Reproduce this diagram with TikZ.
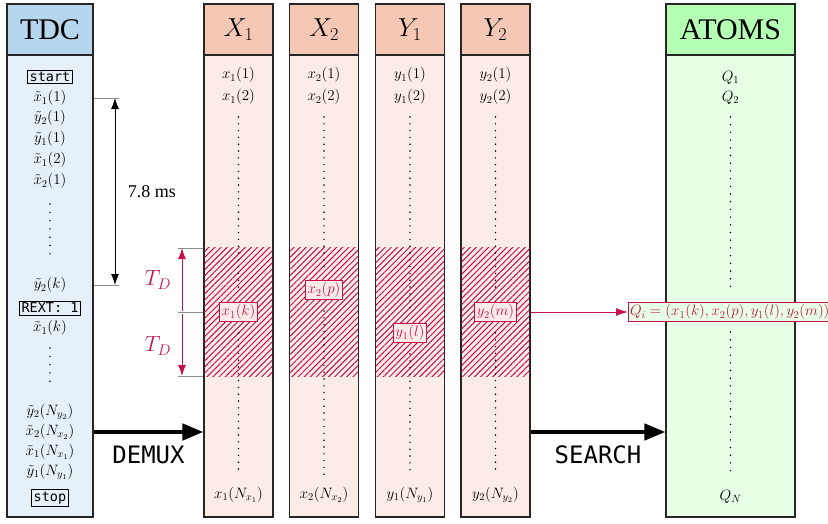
\RequirePackage{fix-cm}
\documentclass[tikz,border=0pt]{standalone}
\usepackage{fontspec}
\setmainfont{Liberation Serif}
\setmonofont{DejaVu Sans Mono}
\usetikzlibrary{arrows.meta,patterns.meta}

\begin{document}
\begin{tikzpicture}[x=1pt, y=-1pt,
    colhead/.style={draw=black!85, line width=1.1pt, inner sep=0pt, minimum height=51pt, font=\fontsize{30}{30}\selectfont},
    colbody/.style={draw=black!85, line width=1.1pt, inner sep=0pt, minimum height=462pt},
    entry/.style={inner sep=1pt, font=\fontsize{15}{17}\selectfont},
    tagbox/.style={draw, line width=0.8pt, inner sep=2pt, font=\fontsize{13.5}{15}\ttfamily},
    pickbox/.style={draw=hatchRed, line width=1pt, fill=xBody, text=hatchRed, inner sep=2pt, font=\fontsize{15}{17}\selectfont},
    dotline/.style={line width=1.6pt, line cap=round, dash pattern=on 0pt off #1},
    dotline/.default=6.8pt,
    guideline/.style={draw=black!45, line width=0.9pt},
    bigarrow/.style={line width=4.4pt, -{Triangle[length=21pt,width=16pt]}},
    tdarrow/.style={draw=hatchRed, line width=1pt, -{Latex[length=11pt,width=8pt]}},
    flowlabel/.style={font=\fontsize{24}{24}\ttfamily}
]
    \definecolor{tdcHead}{HTML}{B5D6EC}
    \definecolor{tdcBody}{HTML}{E5F0F8}
    \definecolor{xHead}{HTML}{F5C7B5}
    \definecolor{xBody}{HTML}{FBECE7}
    \definecolor{atomHead}{HTML}{B5FFB5}
    \definecolor{atomBody}{HTML}{E6FFE6}
    \definecolor{hatchRed}{HTML}{C8104B}

    \useasboundingbox (0,0) rectangle (828,523);

    % TDC column
    \node[colhead, fill=tdcHead, minimum width=86pt] (tdc-head) at (50,29.5) {TDC};
    \node[colbody, fill=tdcBody, minimum width=86pt] (tdc) at (50,286) {};

    \node[tagbox] (start) at (50,77) {start};
    \foreach \y/\txt [count=\i] in {98/\tilde{x}_1(1), 118/\tilde{y}_2(1), 139/\tilde{y}_1(1), 160/\tilde{x}_1(2), 181/\tilde{x}_2(1), 285/\tilde{y}_2(k), 328/\tilde{x}_1(k), 412/\tilde{y}_2(N_{y_2}), 432/\tilde{x}_2(N_{x_2}), 452/\tilde{x}_1(N_{x_1}), 472/\tilde{y}_1(N_{y_1})}
        \node[entry] (tdc-\i) at (50,\y) {$\txt$};
    \node[tagbox] (rext) at (50,308) {REXT: 1};
    \node[tagbox] (stop) at (50,498) {stop};
    \draw[dotline=8.3pt] (50,204) -- (50,262);
    \draw[dotline=8.3pt] (50,348) -- (50,382);

    % Time span of the TDC words
    \coordinate (msTop) at (115,98);
    \coordinate (msBot) at (115,285);
    \draw[guideline] (tdc.east |- msTop) -- ++(25,0);
    \draw[guideline] (tdc.east |- msBot) -- ++(25,0);
    \draw[line width=0.9pt, {Latex[length=11pt,width=8pt]}-{Latex[length=11pt,width=8pt]}] (msTop) -- (msBot)
        node[midway, right=9pt, font=\fontsize{18}{18}\selectfont] {7.8 ms};

    % Channel columns
    \foreach \n/\cx/\ttl/\var/\nn/\pk/\py in {xa/238.5/X_1/x_1/N_{x_1}/k/312, xb/324/X_2/x_2/N_{x_2}/p/290, yc/410/Y_1/y_1/N_{y_1}/l/333, yd/495.5/Y_2/y_2/N_{y_2}/m/312} {
        \node[colhead, fill=xHead, minimum width=69pt, font=\fontsize{26}{26}\selectfont] (\n-head) at (\cx,29.5) {$\ttl$};
        \node[colbody, fill=xBody, minimum width=69pt] (\n) at (\cx,286) {};
        \fill[pattern={Lines[angle=45,distance=4.3pt,line width=1pt]}, pattern color=hatchRed] ({\cx-33.9},247) rectangle ({\cx+33.9},376);
        \node[entry] (\n-1) at (\cx,75) {$\var(1)$};
        \node[entry] (\n-2) at (\cx,97) {$\var(2)$};
        \node[entry] (\n-last) at (\cx,495) {$\var(\nn)$};
        \draw[dotline] (\cx,117) -- (\cx,{\py-21});
        \draw[dotline] (\cx,{\py+21}) -- (\cx,475);
        \node[pickbox] (\n-pick) at (\cx,\py) {$\var(\pk)$};
    }

    % Coincidence window
    \coordinate (tdA) at (182,248);
    \coordinate (tdB) at (182,312);
    \coordinate (tdC) at (182,376);
    \foreach \c in {tdA,tdB,tdC}
        \draw[guideline] ([xshift=-4pt]\c) -- (xa.west |- \c);
    \draw[tdarrow] ([yshift=1.5pt]tdB) -- (tdA);
    \draw[tdarrow] ([yshift=-1.5pt]tdB) -- (tdC);
    \node[text=hatchRed, font=\fontsize{22}{22}\selectfont] (td-up) at (158,280) {$T_D$};
    \node[text=hatchRed, font=\fontsize{22}{22}\selectfont] (td-down) at (158,346) {$T_D$};

    % ATOMS column
    \node[colhead, fill=atomHead, minimum width=129pt] (atoms-head) at (730.5,29.5) {ATOMS};
    \node[colbody, fill=atomBody, minimum width=129pt] (atoms) at (730.5,286) {};
    \node[entry] (q-1) at (730.5,78) {$Q_1$};
    \node[entry] (q-2) at (730.5,98) {$Q_2$};
    \node[entry] (q-n) at (730.5,497) {$Q_N$};
    \draw[dotline=7.7pt] (730.5,117) -- (730.5,290);
    \draw[dotline=7.7pt] (730.5,332) -- (730.5,473);
    \node[pickbox, fill=atomBody, anchor=west, inner xsep=1.5pt] (qi) at (628,312) {$Q_i = (x_1(k), x_2(p), y_1(l), y_2(m))$};
    \draw[tdarrow, -{Latex[length=12pt,width=8pt]}] (yd.east |- qi) -- (qi.west);

    % Flow arrows
    \coordinate (demux) at (0,432);
    \draw[bigarrow] (tdc.east |- demux) -- (xa.west |- demux) node[midway, below=8pt, flowlabel] {DEMUX};
    \draw[bigarrow] (yd.east |- demux) -- (atoms.west |- demux) node[midway, below=8pt, flowlabel] {SEARCH};

\end{tikzpicture}
\end{document}
